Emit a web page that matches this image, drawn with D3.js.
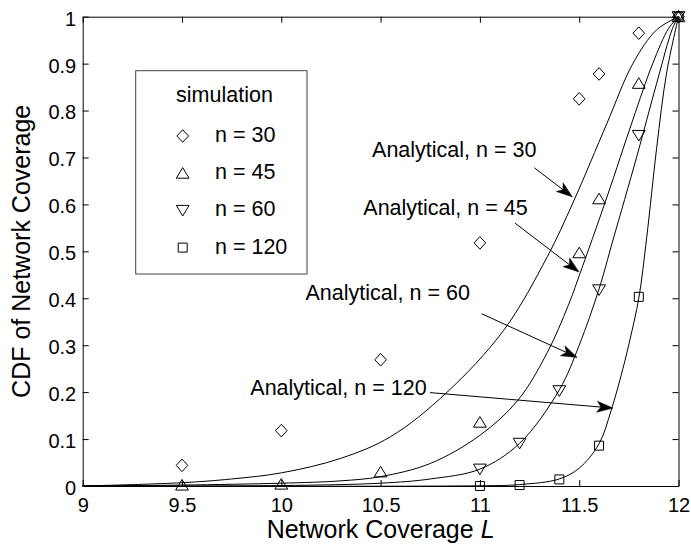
<!DOCTYPE html>
<html>
<head>
<meta charset="utf-8">
<script src="https://cdn.jsdelivr.net/npm/d3@7"></script>
<style>
  html, body { margin: 0; padding: 0; background: #fff; }
  svg { display: block; }
  text { font-family: "Liberation Sans", Arial, Helvetica, sans-serif; fill: #000; }
</style>
</head>
<body>
<svg id="chart" width="691" height="547"></svg>
<script>
// ---- axis ticks ----
const xTicks = [9, 9.5, 10, 10.5, 11, 11.5, 12];
const yTicks = [0, 0.1, 0.2, 0.3, 0.4, 0.5, 0.6, 0.7, 0.8, 0.9, 1];

// ---- analytical CDF curves ----
const anaL30 = [9, 9.5, 9.75, 10, 10.3, 10.55, 10.83, 11.12, 11.34, 11.47, 11.64, 11.77, 11.89, 12];
const anaV30 = [0, 0.007, 0.015, 0.028, 0.059, 0.105, 0.198, 0.332, 0.489, 0.605, 0.773, 0.9, 0.972, 1];
const anaL45 = [9, 9.5, 10, 10.3, 10.5, 10.75, 11, 11.19, 11.34, 11.445, 11.5, 11.64, 11.77, 11.87, 11.95, 12];
const anaV45 = [0, 0.002, 0.006, 0.011, 0.02, 0.048, 0.108, 0.182, 0.285, 0.385, 0.448, 0.616, 0.78, 0.9, 0.975, 1];
const anaL60 = [9, 10, 10.5, 10.75, 11, 11.2, 11.4, 11.5, 11.6, 11.67, 11.79, 11.89, 11.97, 12];
const anaV60 = [0, 0.001, 0.006, 0.015, 0.036, 0.091, 0.205, 0.3, 0.42, 0.524, 0.702, 0.858, 0.975, 1];
const anaL120 = [9, 11, 11.2, 11.4, 11.5, 11.6, 11.66, 11.72, 11.76, 11.8, 11.84, 11.89, 11.94, 12];
const anaV120 = [0, 0.0005, 0.003, 0.015, 0.038, 0.09, 0.16, 0.25, 0.32, 0.4, 0.53, 0.72, 0.88, 1];

// ---- simulation results ----
const simL30 = [9.5, 10, 10.5, 11, 11.5, 11.6, 11.8, 12];
const simV30 = [0.044, 0.118, 0.269, 0.518, 0.825, 0.878, 0.965, 1];
const simL45 = [9.5, 10, 10.5, 11, 11.5, 11.6, 11.8, 12];
const simV45 = [0.002, 0.004, 0.03, 0.136, 0.497, 0.612, 0.858, 1];
const simL60 = [11, 11.2, 11.4, 11.6, 11.8, 12];
const simV60 = [0.036, 0.091, 0.203, 0.418, 0.747, 1];
const simL120 = [11, 11.2, 11.4, 11.6, 11.8, 12];
const simV120 = [0, 0.002, 0.014, 0.086, 0.403, 1];

// ---- legend / annotation labels ----
const legendTitle = "simulation";
const seriesNames = ["n = 30", "n = 45", "n = 60", "n = 120"];
const annoLabels = ["Analytical, n = 30", "Analytical, n = 45", "Analytical, n = 60", "Analytical, n = 120"];
// label anchor (L, CDF), arrow tail (L, CDF), arrow tip (L, CDF)
const annoText = [[10.457, 0.701], [10.413, 0.577], [10.122, 0.396], [9.844, 0.194]];
const annoTail = [[11.274, 0.678], [11.177, 0.560], [11.009, 0.367], [10.749, 0.199]];
const annoTip  = [[11.466, 0.616], [11.499, 0.456], [11.490, 0.274], [11.670, 0.166]];

(function draw() {
  const svg = d3.select("#chart");
  const W = 691, H = 547;
  svg.append("rect").attr("width", W).attr("height", H).attr("fill", "#fff");

  const pL = 82.7, pR = 678.5, pT = 16.7, pB = 486;
  const x = d3.scaleLinear().domain([9, 12]).range([pL, pR]);
  const y = d3.scaleLinear().domain([0, 1]).range([pB, pT]);

  // marker shapes
  const diamond = { draw(c) { c.moveTo(0, -6.3); c.lineTo(5.8, 0); c.lineTo(0, 6.3); c.lineTo(-5.8, 0); c.closePath(); } };
  const triUp   = { draw(c) { c.moveTo(0, -5.6); c.lineTo(6.4, 5); c.lineTo(-6.4, 5); c.closePath(); } };
  const triDown = { draw(c) { c.moveTo(0, 5.6); c.lineTo(6.4, -5); c.lineTo(-6.4, -5); c.closePath(); } };
  const square  = { draw(c) { c.rect(-4.5, -4.5, 9, 9); } };
  const shapes = [diamond, triUp, triDown, square];

  // axes: ticks point inward on all four sides
  function styleAxis(g) {
    g.selectAll("path.domain").attr("stroke", "#000").attr("stroke-width", 1);
    g.selectAll(".tick line").attr("stroke", "#000").attr("stroke-width", 1);
    g.selectAll(".tick text").attr("font-size", 20).attr("fill", "#000")
      .attr("font-family", '"Liberation Sans", Arial, sans-serif');
  }
  const fmt = d => String(d);
  svg.append("g").attr("transform", `translate(0,${pB})`)
    .call(d3.axisBottom(x).tickValues(xTicks).tickFormat(fmt).tickSizeInner(-6).tickSizeOuter(0).tickPadding(12))
    .call(styleAxis);
  svg.append("g").attr("transform", `translate(${pL},0)`)
    .call(d3.axisLeft(y).tickValues(yTicks).tickFormat(fmt).tickSizeInner(-6).tickSizeOuter(0).tickPadding(6.5))
    .call(styleAxis)
    .selectAll(".tick text").attr("dy", "0.42em");
  svg.append("g").attr("transform", `translate(0,${pT})`)
    .call(d3.axisTop(x).tickValues(xTicks).tickFormat("").tickSizeInner(-6).tickSizeOuter(0))
    .call(styleAxis);
  svg.append("g").attr("transform", `translate(${pR},0)`)
    .call(d3.axisRight(y).tickValues(yTicks).tickFormat("").tickSizeInner(-6).tickSizeOuter(0))
    .call(styleAxis);

  // analytical curves
  const curves = [[anaL30, anaV30], [anaL45, anaV45], [anaL60, anaV60], [anaL120, anaV120]];
  const line = d3.line().x(d => x(d[0])).y(d => y(d[1])).curve(d3.curveCatmullRom.alpha(0.5));
  svg.append("g").selectAll("path").data(curves).join("path")
    .attr("d", ([Ls, Vs]) => line(Ls.map((l, i) => [l, Vs[i]])))
    .attr("fill", "none").attr("stroke", "#000").attr("stroke-width", 1);

  // simulation markers
  const sims = [[simL30, simV30], [simL45, simV45], [simL60, simV60], [simL120, simV120]];
  sims.forEach(([Ls, Vs], k) => {
    svg.append("g").selectAll("path").data(Ls.map((l, i) => [l, Vs[i]])).join("path")
      .attr("transform", d => `translate(${x(d[0])},${y(d[1])})`)
      .attr("d", d3.symbol().type(shapes[k])())
      .attr("fill", "none").attr("stroke", "#000").attr("stroke-width", 1);
  });

  // annotations with arrows
  const headLen = 16, headHalf = 5.5, notch = 12;
  annoLabels.forEach((lab, i) => {
    svg.append("text").attr("x", x(annoText[i][0])).attr("y", y(annoText[i][1]))
      .attr("font-size", 21.5).text(lab);
    const x0 = x(annoTail[i][0]), y0 = y(annoTail[i][1]);
    const x1 = x(annoTip[i][0]), y1 = y(annoTip[i][1]);
    const ang = Math.atan2(y1 - y0, x1 - x0);
    const ux = Math.cos(ang), uy = Math.sin(ang), px = -uy, py = ux;
    svg.append("line").attr("x1", x0).attr("y1", y0)
      .attr("x2", x1 - ux * notch).attr("y2", y1 - uy * notch)
      .attr("stroke", "#000").attr("stroke-width", 1);
    const bx = x1 - ux * headLen, by = y1 - uy * headLen;
    const p = d3.path();
    p.moveTo(x1, y1);
    p.lineTo(bx + px * headHalf, by + py * headHalf);
    p.lineTo(x1 - ux * notch, y1 - uy * notch);
    p.lineTo(bx - px * headHalf, by - py * headHalf);
    p.closePath();
    svg.append("path").attr("d", p.toString()).attr("fill", "#000").attr("stroke", "#000").attr("stroke-width", 0.5);
  });

  // legend
  const lg = svg.append("g");
  lg.append("rect").attr("x", 135.7).attr("y", 70.7).attr("width", 171.3).attr("height", 203.3)
    .attr("fill", "#fff").attr("stroke", "#444").attr("stroke-width", 1);
  lg.append("text").attr("x", 224.5).attr("y", 102).attr("text-anchor", "middle")
    .attr("font-size", 21.5).text(legendTitle);
  seriesNames.forEach((nm, k) => {
    const cy = 136 + k * 37.2;
    lg.append("path").attr("transform", `translate(182.7,${cy})`)
      .attr("d", d3.symbol().type(shapes[k])())
      .attr("fill", "none").attr("stroke", "#000").attr("stroke-width", 1);
    lg.append("text").attr("x", 215).attr("y", cy + 6).attr("font-size", 21.5).text(nm);
  });

  // axis titles
  const xt = svg.append("text").attr("x", (pL + pR) / 2).attr("y", 538)
    .attr("text-anchor", "middle").attr("font-size", 25);
  xt.append("tspan").text("Network Coverage ");
  xt.append("tspan").attr("font-style", "italic").text("L");
  svg.append("text").attr("transform", `translate(30,${(pT + pB) / 2}) rotate(-90)`)
    .attr("text-anchor", "middle").attr("font-size", 25).text("CDF of Network Coverage");
})();
</script>
</body>
</html>
